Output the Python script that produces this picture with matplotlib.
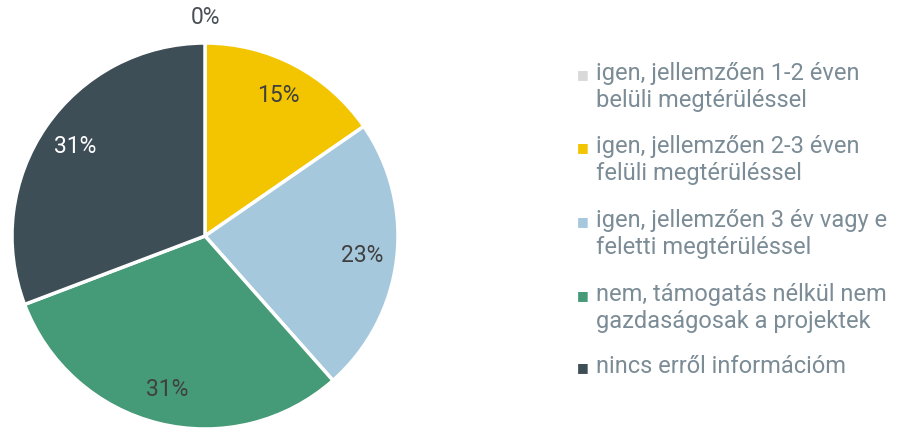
import numpy as np
import matplotlib.pyplot as plt

labels = [
    "igen, jellemzően 1-2 éven\nbelüli megtérüléssel",
    "igen, jellemzően 2-3 éven\nfelüli megtérüléssel",
    "igen, jellemzően 3 év vagy e\nfeletti megtérüléssel",
    "nem, támogatás nélkül nem\ngazdaságosak a projektek",
    "nincs erről információm",
]
values = [0.0, 15.4, 23.1, 30.8, 30.8]
pct_text = ["0%", "15%", "23%", "31%", "31%"]
colors = ["#d9d9d9", "#f2c500", "#a6c8dc", "#459a78", "#3e4e57"]
pct_colors = ["#4a5058", "#404040", "#404040", "#404040", "#ffffff"]

plt.rcParams['font.family'] = ['Roboto', 'DejaVu Sans']

W, H = 899, 428
fig = plt.figure(figsize=(W / 100, H / 100), dpi=100)

# pie: centre (205, 236) px, radius 193 px
cx, cy, r = 205, 236, 193
ax = fig.add_axes([(cx - r) / W, (H - cy - r) / H, 2 * r / W, 2 * r / H])
wedges, _ = ax.pie(values, colors=colors, startangle=90, counterclock=False,
                   wedgeprops=dict(edgecolor="white", linewidth=2.5))
ax.set_xlim(-1, 1)
ax.set_ylim(-1, 1)
ax.set_aspect("equal")
ax.axis("off")

for w, t, c in zip(wedges, pct_text, pct_colors):
    ang = np.deg2rad((w.theta1 + w.theta2) / 2)
    d = 0.82 if w.theta2 - w.theta1 > 5 else 1.13
    ax.text(d * np.cos(ang), d * np.sin(ang), t, ha="center", va="center",
            fontsize=16.5, color=c, clip_on=False)

# legend
first_line = [75, 148, 222, 296, 368]
for lab, col, y in zip(labels, colors, first_line):
    fig.text(583 / W, 1 - y / H, "\u25a0", color=col, fontsize=9,
             ha="center", va="center", family="DejaVu Sans")
    fig.text(596 / W, 1 - (y - 13) / H, lab, color="#7b8c96", fontsize=17,
             ha="left", va="top", linespacing=1.22)

fig.savefig("out.png", dpi=100)
